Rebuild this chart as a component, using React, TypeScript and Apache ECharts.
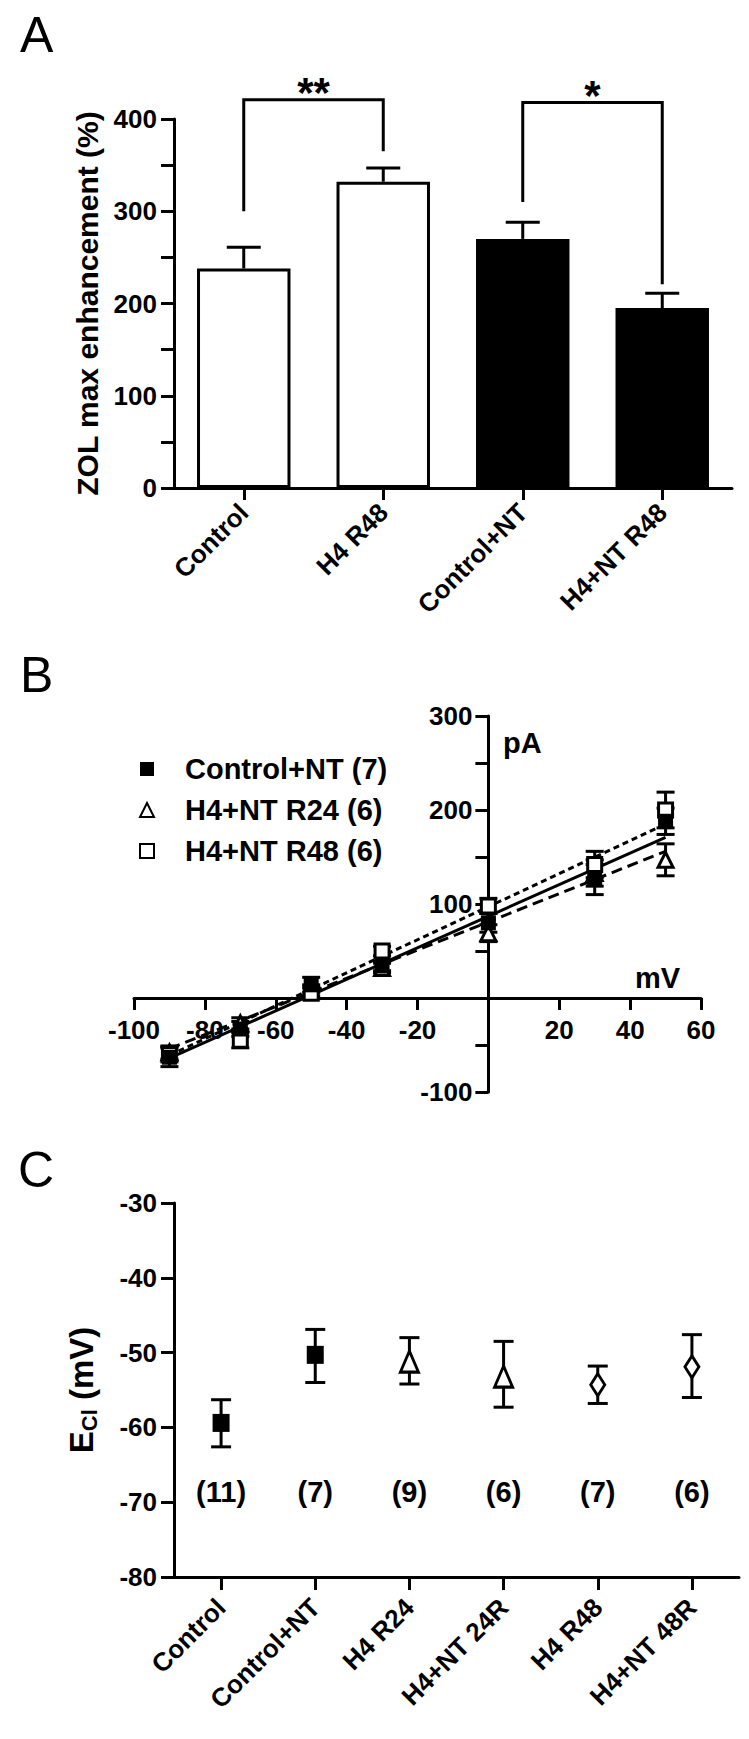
import React, { useEffect, useRef } from "react";
import * as echarts from "echarts";

const FONT = "'Liberation Sans', Arial, Helvetica, sans-serif";

// ---------- Panel A ----------
const aCategories = ["Control", "H4 R48", "Control+NT", "H4+NT R48"];
const aMeans = [238, 332, 270, 195];
const aUpper = [261, 347, 288, 211];
const aFills = ["#ffffff", "#ffffff", "#000000", "#000000"];
// bracket: [left category, right category, left leg bottom, bracket top, right leg bottom]
const aBrackets = [
  [0, 1, 300, 421, 365],
  [2, 3, 310, 418, 221],
];
const aStarLabels = ["**", "*"];
const aYTicks = [0, 100, 200, 300, 400];

// ---------- Panel B ----------
const bVoltages = [-90, -70, -50, -30, 0, 30, 50];
const bCtrlNT = [-63, -33, 14, 34, 80, 126, 188];
const bCtrlNTErr = [10, 8, 8, 5, 10, 16, 14];
const bR24 = [-58, -27, 8, 32, 69, 133, 147];
const bR24Err = [7, 6, 6, 5, 9, 14, 17];
const bR48 = [-60, -45, 5, 50, 98, 142, 200];
const bR48Err = [8, 8, 6, 5, 8, 14, 19];
const bFitX = [-90, 50];
const bFitCtrlNT = [-64, 171];
const bFitR24 = [-54, 156];
const bFitR48 = [-61, 185];
const bNames = ["Control+NT (7)", "H4+NT R24 (6)", "H4+NT R48 (6)"];
const bXRange = [-100, 60];
const bYRange = [-100, 300];

// ---------- Panel C ----------
const cCategories = ["Control", "Control+NT", "H4 R24", "H4+NT 24R", "H4 R48", "H4+NT 48R"];
const cMeans = [-59.4, -50.3, -51.2, -53.2, -54.3, -51.9];
const cHigh = [-56.3, -46.9, -48.0, -48.5, -51.8, -47.6];
const cLow = [-62.6, -54.0, -54.2, -57.3, -56.8, -56.0];
const cN = ["(11)", "(7)", "(9)", "(6)", "(7)", "(6)"];
const cNLabelY = -68.7;
const cSymbols = ["rect", "rect", "triangle", "triangle", "diamond", "diamond"];
const cFilled = [true, true, false, false, false, false];

const black = "#000000";
const white = "#ffffff";

// grid boxes (pixels)
const gridA = { left: 174, top: 119, width: 558, height: 369 };
const gridB = { left: 134, top: 716, width: 567, height: 376 };
const gridC = { left: 174, top: 1203, width: 565, height: 374 };

// axes of panel B cross at zero: shift each axis to the other axis's zero
const bXAxisOffset = -gridB.height * (0 - bYRange[0]) / (bYRange[1] - bYRange[0]);
const bYAxisOffset = -gridB.width * (0 - bXRange[0]) / (bXRange[1] - bXRange[0]);

function errorBars(capHalf: number, lowerCap: boolean) {
  return (params: any, api: any) => {
    const x = api.value(0);
    const lo = api.coord([x, api.value(1)]);
    const hi = api.coord([x, api.value(2)]);
    const style = { stroke: black, lineWidth: 3 };
    const children: any[] = [
      { type: "line", shape: { x1: lo[0], y1: lo[1], x2: hi[0], y2: hi[1] }, style },
      { type: "line", shape: { x1: hi[0] - capHalf, y1: hi[1], x2: hi[0] + capHalf, y2: hi[1] }, style },
    ];
    if (lowerCap) {
      children.push({ type: "line", shape: { x1: lo[0] - capHalf, y1: lo[1], x2: lo[0] + capHalf, y2: lo[1] }, style });
    }
    return { type: "group", children };
  };
}

function bracketRenderer(params: any, api: any) {
  const i0 = api.value(0);
  const i1 = api.value(1);
  const p0 = api.coord([i0, api.value(2)]);
  const p1 = api.coord([i0, api.value(3)]);
  const p2 = api.coord([i1, api.value(3)]);
  const p3 = api.coord([i1, api.value(4)]);
  return {
    type: "group",
    children: [
      {
        type: "polyline",
        shape: { points: [p0, p1, p2, p3] },
        style: { stroke: black, lineWidth: 3, fill: "none" },
      },
      {
        type: "text",
        style: {
          text: aStarLabels[params.dataIndex],
          x: (p1[0] + p2[0]) / 2,
          y: p1[1] + 14,
          align: "center",
          verticalAlign: "bottom",
          font: `bold 42px ${FONT}`,
          fill: black,
        },
      },
    ],
  };
}

const tickLabel = { fontFamily: FONT, fontWeight: "bold" as const, fontSize: 26, color: black };
const axisLine = { show: true, onZero: false, lineStyle: { color: black, width: 3 } };
const axisTick = (len: number) => ({ show: true, length: len, lineStyle: { color: black, width: 3 } });
const minorTick = { show: true, splitNumber: 2, length: 13, lineStyle: { color: black, width: 3 } };

export default function App() {
  const ref = useRef<HTMLDivElement>(null);
  useEffect(() => {
    if (!ref.current) return;
    const chart = echarts.init(ref.current, undefined, { renderer: "svg" });

    const bErr = (vals: number[], errs: number[]) =>
      bVoltages.map((v, i) => [v, vals[i] - errs[i], vals[i] + errs[i]]);

    const option: any = {
      animation: false,
      backgroundColor: white,
      textStyle: { fontFamily: FONT },
      grid: [gridA, gridB, gridC],
      xAxis: [
        {
          gridIndex: 0,
          type: "category",
          data: aCategories,
          boundaryGap: true,
          axisLine,
          axisTick: { ...axisTick(12), alignWithLabel: true },
          axisLabel: { ...tickLabel, rotate: 45, margin: 20, interval: 0 },
        },
        {
          gridIndex: 1,
          type: "value",
          min: bXRange[0],
          max: bXRange[1],
          interval: 20,
          offset: bXAxisOffset,
          axisLine,
          axisTick: axisTick(12),
          splitLine: { show: false },
          axisLabel: { ...tickLabel, margin: 19, formatter: (v: number) => (v === 0 ? "" : String(v)) },
        },
        {
          gridIndex: 2,
          type: "category",
          data: cCategories,
          boundaryGap: true,
          axisLine,
          axisTick: { ...axisTick(13), alignWithLabel: true },
          axisLabel: { ...tickLabel, rotate: 45, margin: 26, interval: 0 },
        },
      ],
      yAxis: [
        {
          gridIndex: 0,
          type: "value",
          min: aYTicks[0],
          max: aYTicks[aYTicks.length - 1],
          interval: 100,
          axisLine,
          axisTick: axisTick(13),
          minorTick,
          splitLine: { show: false },
          axisLabel: { ...tickLabel, margin: 17 },
          name: "ZOL max enhancement (%)",
          nameLocation: "middle",
          nameGap: 72,
          nameTextStyle: { fontFamily: FONT, fontWeight: "bold", fontSize: 30, color: black },
        },
        {
          gridIndex: 1,
          type: "value",
          min: bYRange[0],
          max: bYRange[1],
          interval: 100,
          offset: bYAxisOffset,
          axisLine,
          axisTick: axisTick(13),
          minorTick,
          splitLine: { show: false },
          axisLabel: { ...tickLabel, margin: 16, formatter: (v: number) => (v === 0 ? "" : String(v)) },
        },
        {
          gridIndex: 2,
          type: "value",
          min: -80,
          max: -30,
          interval: 10,
          axisLine,
          axisTick: axisTick(13),
          splitLine: { show: false },
          axisLabel: { ...tickLabel, margin: 17 },
          name: "{e|E}{s|Cl}{e| (mV)}",
          nameLocation: "middle",
          nameGap: 74,
          nameTextStyle: {
            rich: {
              e: { fontFamily: FONT, fontWeight: "bold", fontSize: 33, color: black },
              s: { fontFamily: FONT, fontWeight: "bold", fontSize: 22, color: black, padding: [15, 0, 0, 0] },
            },
          },
        },
      ],
      legend: {
        orient: "vertical",
        left: 134,
        top: 749,
        itemWidth: 14,
        itemHeight: 14,
        itemGap: 11,
        selectedMode: false,
        data: bNames,
        textStyle: { fontFamily: FONT, fontWeight: "bold", fontSize: 29, lineHeight: 30, color: black, padding: [0, 0, 0, 26] },
      },
      graphic: [
        { type: "text", left: 20, top: 10, style: { text: "A", font: `50px ${FONT}`, fill: black } },
        { type: "text", left: 20, top: 650, style: { text: "B", font: `50px ${FONT}`, fill: black } },
        { type: "text", left: 18, top: 1145, style: { text: "C", font: `50px ${FONT}`, fill: black } },
        { type: "text", left: 503, top: 728, style: { text: "pA", font: `bold 29px ${FONT}`, fill: black } },
        { type: "text", left: 635, top: 963, style: { text: "mV", font: `bold 29px ${FONT}`, fill: black } },
      ],
      series: [
        // ----- A -----
        {
          type: "bar",
          xAxisIndex: 0,
          yAxisIndex: 0,
          barWidth: "67%",
          data: aMeans.map((v, i) => ({
            value: v,
            itemStyle: { color: aFills[i], borderColor: black, borderWidth: 3 },
          })),
        },
        {
          type: "custom",
          xAxisIndex: 0,
          yAxisIndex: 0,
          renderItem: errorBars(17, false),
          data: aMeans.map((v, i) => [i, v, aUpper[i]]),
          z: 3,
        },
        {
          type: "custom",
          xAxisIndex: 0,
          yAxisIndex: 0,
          clip: false,
          renderItem: bracketRenderer,
          data: aBrackets,
          z: 4,
        },
        // ----- B fits -----
        ...[
          [bFitCtrlNT, "solid"],
          [bFitR24, [11, 6]],
          [bFitR48, [6, 4]],
        ].map(([vals, type]: any) => ({
          type: "line",
          xAxisIndex: 1,
          yAxisIndex: 1,
          data: bFitX.map((x, i) => [x, vals[i]]),
          symbol: "none",
          lineStyle: { color: black, width: 3, type },
          z: 2,
        })),
        // ----- B error bars -----
        ...[
          [bR24, bR24Err],
          [bR48, bR48Err],
          [bCtrlNT, bCtrlNTErr],
        ].map(([vals, errs]) => ({
          type: "custom",
          xAxisIndex: 1,
          yAxisIndex: 1,
          renderItem: errorBars(9, true),
          data: bErr(vals, errs),
          z: 3,
        })),
        // ----- B points -----
        {
          name: bNames[1],
          type: "scatter",
          xAxisIndex: 1,
          yAxisIndex: 1,
          symbol: "triangle",
          symbolSize: [15, 15],
          itemStyle: { color: white, borderColor: black, borderWidth: 3, opacity: 1 },
          data: bVoltages.map((v, i) => [v, bR24[i]]),
          z: 4,
        },
        {
          name: bNames[2],
          type: "scatter",
          xAxisIndex: 1,
          yAxisIndex: 1,
          symbol: "rect",
          symbolSize: 14,
          itemStyle: { color: white, borderColor: black, borderWidth: 3, opacity: 1 },
          data: bVoltages.map((v, i) => [v, bR48[i]]),
          z: 5,
        },
        {
          name: bNames[0],
          type: "scatter",
          xAxisIndex: 1,
          yAxisIndex: 1,
          symbol: "rect",
          symbolSize: 15,
          itemStyle: { color: black, borderColor: black, borderWidth: 0, opacity: 1 },
          data: bVoltages.map((v, i) => [v, bCtrlNT[i]]),
          z: 6,
        },
        // ----- C -----
        {
          type: "custom",
          xAxisIndex: 2,
          yAxisIndex: 2,
          renderItem: errorBars(10, true),
          data: cMeans.map((_, i) => [i, cLow[i], cHigh[i]]),
          z: 3,
        },
        {
          type: "scatter",
          xAxisIndex: 2,
          yAxisIndex: 2,
          data: cMeans.map((v, i) => ({
            value: [i, v],
            symbol: cSymbols[i],
            symbolSize: cSymbols[i] === "rect" ? [17, 18] : cSymbols[i] === "triangle" ? [18, 21] : [14, 22],
            itemStyle: cFilled[i]
              ? { color: black, borderColor: black, borderWidth: 0, opacity: 1 }
              : { color: white, borderColor: black, borderWidth: 3, opacity: 1 },
          })),
          z: 4,
        },
        {
          type: "scatter",
          xAxisIndex: 2,
          yAxisIndex: 2,
          symbolSize: 1,
          itemStyle: { opacity: 0 },
          data: cN.map((t, i) => ({ value: [i, cNLabelY], label: { formatter: t } })),
          label: { show: true, position: "inside", fontFamily: FONT, fontWeight: "bold", fontSize: 29, color: black, opacity: 1 },
        },
      ],
    };
    chart.setOption(option);
    return () => chart.dispose();
  }, []);

  return (
    <div
      ref={ref}
      style={{ position: "absolute", left: 0, top: 0, width: 749, height: 1739, background: white }}
    />
  );
}
